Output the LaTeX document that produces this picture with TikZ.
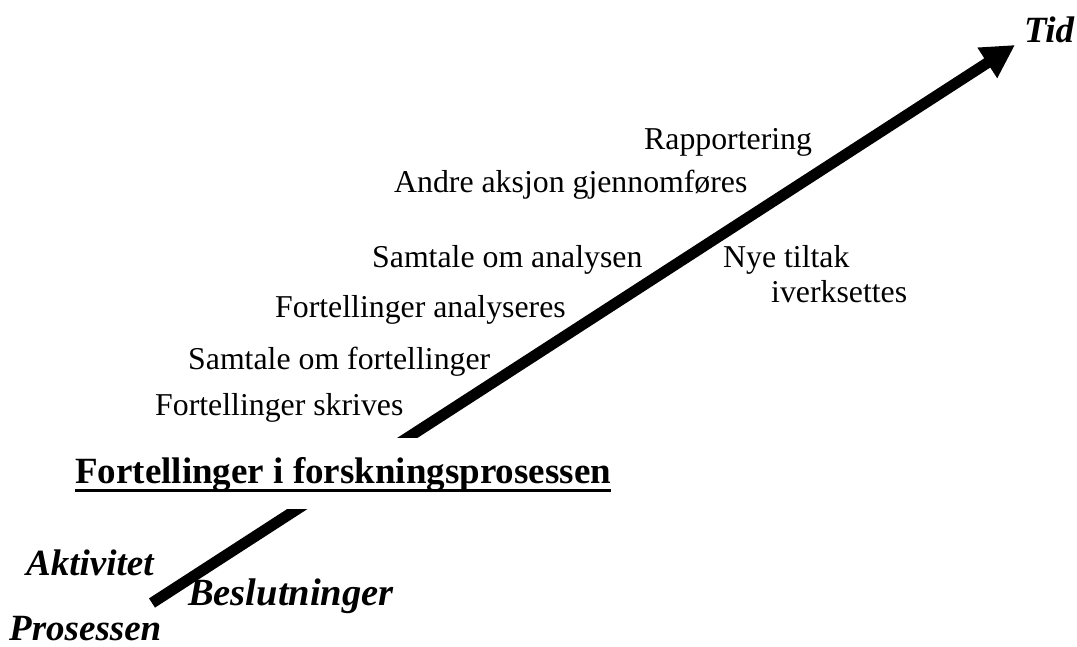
\documentclass[tikz,border=0pt]{standalone}
\usepackage{fontspec}
\setmainfont{Liberation Serif}
\usetikzlibrary{arrows.meta}
\begin{document}
\begin{tikzpicture}[x=1pt,y=-1pt,
  step label/.style={anchor=base west,inner sep=0pt,font=\fontsize{31.8}{38}\selectfont},
  axis label/.style={anchor=base west,inner sep=0pt,font=\fontsize{37}{44}\selectfont\bfseries\itshape},
  title label/.style={anchor=base west,inner xsep=0pt,inner ysep=0pt,fill=white,
    text height=45pt,text depth=26pt,font=\fontsize{37}{44}\selectfont\bfseries},
  time arrow/.style={line width=11pt,-{Triangle[length=33pt,width=34pt]}}]
\useasboundingbox (0,0) rectangle (1077,647);

% time axis
\coordinate (start) at (152,603);
\coordinate (tip) at (1015,45);
\draw[time arrow] (start) -- (tip);

% heading, masking the axis behind it
\node[title label] (title) at (75,483) {Fortellinger i forskningsprosessen};
\draw[line width=3pt] ([yshift=-7.5pt]title.base west) -- ([yshift=-7.5pt]title.base east);

% steps along the axis
\node[step label] (s1) at (155,415) {Fortellinger skrives};
\node[step label] (s2) at (188,369) {Samtale om fortellinger};
\node[step label] (s3) at (275,317) {Fortellinger analyseres};
\node[step label] (s4) at (372,268) {Samtale om analysen};
\node[step label] (s5) at (723,268) {Nye tiltak};
\node[step label] (s6) at (771,303) {iverksettes};
\node[step label] (s7) at (394,193) {Andre aksjon gjennomføres};
\node[step label] (s8) at (644,150) {Rapportering};

% axis labels
\node[axis label] (tid) at (1024,43) {Tid};
\node[axis label] (akt) at (26,575) {Aktivitet};
\node[axis label,font=\fontsize{38.5}{46}\selectfont\bfseries\itshape] (besl) at (188,605) {Beslutninger};
\node[axis label] (pros) at (9,640) {Prosessen};
\end{tikzpicture}
\end{document}
